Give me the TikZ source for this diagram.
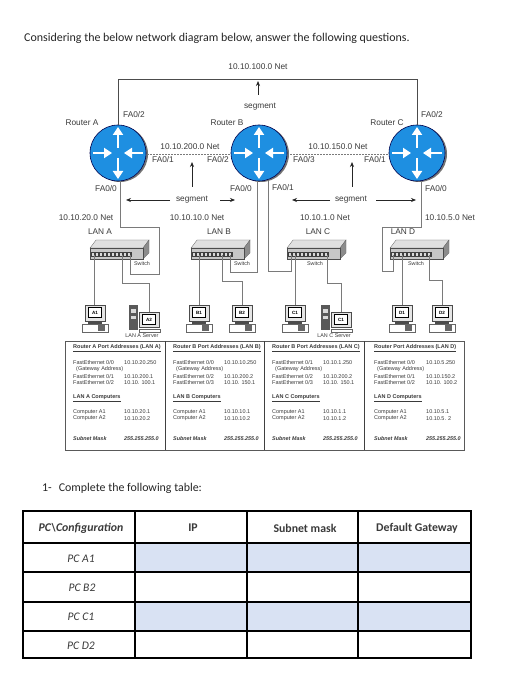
\documentclass[tikz,border=0pt]{standalone}
\usepackage{fontspec}
\setmainfont{Liberation Sans}
\newfontfamily\carl{Carlito}
\usetikzlibrary{arrows.meta,calc}
\definecolor{rblue}{HTML}{1E8FE1}
\definecolor{ink}{HTML}{3A3A3A}
\definecolor{wire}{HTML}{7A7A7A}
\definecolor{cellblue}{HTML}{D9E2F3}
\newcommand{\fsz}[1]{\fontsize{#1}{#1}\selectfont}
\tikzset{
  lbl/.style={font=\fsz{8.3}, text=ink, inner sep=0pt},
  tiny/.style={font=\fsz{5.5}, text=ink, inner sep=0pt, anchor=west},
  tinyh/.style={font=\fsz{5.5}\bfseries, text=ink, inner sep=0pt, anchor=west},
  swl/.style={font=\fsz{5.4}, text=ink, inner sep=0pt},
  wired/.style={draw=wire, line width=0.8pt},
  net/.style={draw=wire, line width=0.6pt, dashed, dash pattern=on 2pt off 1pt},
  toparr/.style={draw=black!85, line width=0.7pt, -{Stealth[length=5pt,width=4pt]}},
  router/.style={circle, draw=black!70!blue, fill=rblue, line width=0.6pt, minimum size=56pt, inner sep=0pt},
  rshadow/.style={circle, fill=black!55, minimum size=56pt, inner sep=0pt},
  wh/.style={draw=white, line width=2.6pt, -{Triangle[length=8pt,width=10pt,fill=white]}},
  swf/.style={draw=black!70, fill=black!22, line width=0.4pt, minimum width=53pt, minimum height=11pt, inner sep=0pt},
  mon/.style={draw=black!70, fill=black!10, line width=0.4pt, minimum width=20pt, minimum height=16pt, inner sep=0pt},
  scr/.style={draw=black, fill=white, line width=0.7pt, minimum width=13pt, minimum height=10pt, inner sep=0pt, font=\fsz{4.6}\bfseries},
  cell/.style={draw=black, line width=1.6pt, inner sep=0pt},
  ct/.style={font=\carl\fsz{11.6}\itshape, text=ink, inner sep=0pt},
  ch/.style={font=\carl\fsz{11.8}\bfseries, text=ink, inner sep=0pt},
}
% router: name, x, y
\newcommand{\routernode}[3]{%
  \node[rshadow] (#1s) at (#2+2,#3+1) {};
  \node[router] (#1) at (#2,#3) {};
  \draw[wh] (#2,#3-5) -- (#2,#3-26);
  \draw[wh] (#2,#3+5) -- (#2,#3+26);
  \draw[wh] (#2-25,#3) -- (#2-6,#3);
  \draw[wh] (#2+25,#3) -- (#2+6,#3);
}
% switch: name, left x
\newcommand{\switchnode}[2]{%
  \fill[black!12,draw=black!60,line width=0.3pt] (#2,248) -- (#2+6,240) -- (#2+59,240) -- (#2+53,248) -- cycle;
  \fill[black!45,draw=black!60,line width=0.3pt] (#2+53,248) -- (#2+59,240) -- (#2+59,253) -- (#2+53,259) -- cycle;
  \node[swf] (#1) at (#2+26.5,253.5) {};
  \fill[black!75] (#2+1,252) rectangle (#2+42,257);
  \foreach \i in {0,...,9} {\fill[black!15] (#2+2+4*\i,253) rectangle (#2+4+4*\i,256);}
}
% pc: name, x, label
\newcommand{\pcnode}[3]{%
  \node[mon] (#1) at (#2,313) {};
  \node[scr] (#1t) at (#2,312.5) {#3};
  \draw[black!60,fill=white,line width=0.4pt] (#2-13,324) rectangle (#2+13,332);
  \fill[black!70] (#2-7,321) rectangle (#2+7,324);
  \fill[black!60] (#2+3,325) rectangle (#2+10,331);
}
% pc with server: name, x of monitor, label
\newcommand{\srvnode}[3]{%
  \fill[black!65] (#2-20,305) rectangle (#2-11,330);
  \fill[black!15] (#2-18,309) rectangle (#2-13,313);
  \fill[black!15] (#2-18,316) rectangle (#2-13,319);
  \node[mon,minimum height=15pt] (#1) at (#2,320) {};
  \node[scr] (#1t) at (#2,319.5) {#3};
  \draw[black!60,fill=white,line width=0.4pt] (#2-10,329) rectangle (#2+11,332);
}
\begin{document}
\begin{tikzpicture}[x=1pt,y=-1pt]
\useasboundingbox[fill=white] (0,0) rectangle (529,700);

\node[inner sep=0pt,anchor=west,font=\carl\fsz{11.95},text=black!85] (title) at (24,38) {Considering the below network diagram below, answer the following questions.};

% connectors behind routers
\routernode{ra}{118}{153}
\routernode{rb}{259}{153}
\routernode{rc}{417}{153}

\coordinate (tl) at (118,79);
\coordinate (tr) at (417,79);
\draw[draw=black!70,line width=0.7pt] (ra.north) -- (tl) -- (tr) -- (rc.north);
\draw[net] (ra.east) ++(1,1) -- (230,154);
\draw[net] (rb.east) ++(3,1) -- (388,154);

% arrows
\coordinate (a1s) at (258,95); \coordinate (a1e) at (258,81);
\draw[toparr] (a1s) -- (a1e);
\coordinate (a2s) at (192,187); \coordinate (a2e) at (192,162);
\draw[toparr] (a2s) -- (a2e);
\coordinate (a3s) at (352,187); \coordinate (a3e) at (352,162);
\draw[toparr] (a3s) -- (a3e);
\coordinate (s1a) at (170,200); \coordinate (s1b) at (126,200);
\draw[toparr] (s1a) -- (s1b);
\coordinate (s2a) at (220,200); \coordinate (s2b) at (235,200);
\draw[toparr] (s2a) -- (s2b);
\coordinate (s3a) at (330,200); \coordinate (s3b) at (292,200);
\draw[toparr] (s3a) -- (s3b);
\coordinate (s4a) at (376,200); \coordinate (s4b) at (416,200);
\draw[toparr] (s4a) -- (s4b);

% switches
\switchnode{sa}{90}
\switchnode{sb}{191}
\switchnode{sc}{287}
\switchnode{sd}{390}

% router to switch wiring
\coordinate (ra0) at (120,181);
\coordinate (rb0) at (257,181);
\coordinate (rb1) at (268,181);
\coordinate (rc0) at (421,181);
\coordinate (pa) at (130,255);
\coordinate (pb) at (230,255);
\coordinate (pc) at (291,255);
\coordinate (pd) at (393,255);
\draw[wired] (ra0) -- (120,227) -- (159,227) -- (159,274) -- (130,274) -- (pa);
\draw[wired] (rb0) -- (257,272) -- (230,272) -- (pb);
\draw[wired] (rb1) -- (268,271) -- (291,271) -- (pc);
\draw[wired] (rc0) -- (421,227) -- (382,227) -- (382,271) -- (393,271) -- (pd);

% PCs
\pcnode{a1}{95}{A1}
\srvnode{a2}{149}{A2}
\pcnode{b1}{199}{B1}
\pcnode{b2}{242}{B2}
\pcnode{c1}{295}{C1}
\srvnode{c2}{341}{C1}
\pcnode{d1}{402}{D1}
\pcnode{d2}{442}{D2}

% switch to PC wiring
\coordinate (qa1) at (94,255);  \coordinate (qa2) at (122,255);
\coordinate (qb1) at (199,255); \coordinate (qb2) at (222,255);
\coordinate (qc1) at (295,255); \coordinate (qc2) at (327,255);
\coordinate (qd1) at (402,255); \coordinate (qd2) at (429,255);
\draw[wired] (qa1) -- (a1.north -| qa1);
\draw[wired] (qa2) -- (122,283) -- (149,283) -- (a2.north);
\draw[wired] (qb1) -- (b1.north);
\draw[wired] (qb2) -- (222,281) -- (242,281) -- (b2.north);
\draw[wired] (qc1) -- (c1.north);
\draw[wired] (qc2) -- (327,283) -- (341,283) -- (c2.north);
\draw[wired] (qd1) -- (d1.north);
\draw[wired] (qd2) -- (429,280) -- (442,280) -- (d2.north);

% diagram labels
\node[lbl] (l1) at (258,67) {10.10.100.0 Net};
\node[lbl] (l2) at (260,107) {segment};
\node[lbl] (l3) at (82,123) {Router A};
\node[lbl] (l4) at (134,115) {FA0/2};
\node[lbl] (l5) at (227,123) {Router B};
\node[lbl] (l6) at (190,147) {10.10.200.0 Net};
\node[lbl] (l7) at (163,160) {FA0/1};
\node[lbl] (l8) at (218,160) {FA0/2};
\node[lbl] (l9) at (106,189) {FA0/0};
\node[lbl] (l10) at (241,189) {FA0/0};
\node[lbl] (l11) at (338,147) {10.10.150.0 Net};
\node[lbl] (l12) at (304,160) {FA0/3};
\node[lbl] (l13) at (375,160) {FA0/1};
\node[lbl] (l14) at (387,123) {Router C};
\node[lbl] (l15) at (432,115) {FA0/2};
\node[lbl] (l16) at (283,188) {FA0/1};
\node[lbl] (l17) at (436,189) {FA0/0};
\node[lbl] (l18) at (192,200) {segment};
\node[lbl] (l19) at (351,200) {segment};
\node[lbl] (l20) at (86,218) {10.10.20.0 Net};
\node[lbl] (l21) at (100,232) {LAN A};
\node[lbl] (l22) at (197,218) {10.10.10.0 Net};
\node[lbl] (l23) at (219,232) {LAN B};
\node[lbl] (l24) at (325,218) {10.10.1.0 Net};
\node[lbl] (l25) at (318,232) {LAN C};
\node[lbl] (l26) at (450,218) {10.10.5.0 Net};
\node[lbl] (l27) at (403,232) {LAN D};
\node[swl] (w1) at (142,264) {Switch};
\node[swl] (w2) at (242,264) {Switch};
\node[swl] (w3) at (315,264) {Switch};
\node[swl] (w4) at (416,264) {Switch};
\node[swl] (w5) at (142,336) {LAN A Server};
\node[swl] (w6) at (334,336) {LAN C Server};

% address table
\draw[black!65,line width=0.7pt] (65,341) rectangle (464,450);
\draw[black!75,line width=0.8pt] (165,341) -- (165,450);
\draw[black!75,line width=0.8pt] (264,341) -- (264,450);
\draw[black!75,line width=0.8pt] (364,341) -- (364,450);

\foreach \k/\x/\ip/\hd/\pa/\ipa/\pb/\ipb/\pc/\ipc/\lan/\cu/\cv in {
 A/73/124/Router A Port Addresses (LAN A)/0/10.10.20.250/1/10.10.200.1/2/10.10. 100.1/LAN A Computers/10.10.20.1/10.10.20.2,
 B/173/224/Router B Port Addresses (LAN B)/0/10.10.10.250/2/10.10.200.2/3/10.10. 150.1/LAN B Computers/10.10.10.1/10.10.10.2,
 C/272/323/Router B Port Addresses (LAN C)/1/10.10.1.250/2/10.10.200.2/3/10.10. 150.1/LAN C Computers/10.10.1.1/10.10.1.2,
 D/374/426/Router Port Addresses (LAN D)/0/10.10.5.250/1/10.10.150.2/2/10.10. 100.2/LAN D Computers/10.10.5.1/10.10.5. 2}
{
  \node[tinyh,name=h\k] at (\x,348) {\underline{\hd}};
  \node[tiny,name=p\k] at (\x,363) {FastEthernet 0/\pa};
  \node[tiny,name=i\k] at (\ip,363) {\ipa};
  \node[tiny,name=g\k] at (\x+3,369.5) {(Gateway Address)};
  \node[tiny,name=q\k] at (\x,377) {FastEthernet 0/\pb};
  \node[tiny,name=j\k] at (\ip,377) {\ipb};
  \node[tiny,name=r\k] at (\x,383) {FastEthernet 0/\pc};
  \node[tiny,name=m\k] at (\ip,383) {\ipc};
  \node[tinyh,name=n\k] at (\x,398) {\underline{\lan}};
  \node[tiny,name=t\k] at (\x,412) {Computer A1};
  \node[tiny,name=u\k] at (\ip,412) {\cu};
  \node[tiny,name=v\k] at (\x,418.5) {Computer A2};
  \node[tiny,name=w\k] at (\ip,418.5) {\cv};
  \node[tinyh,font=\fsz{5.4}\bfseries\itshape,name=s\k] at (\x,439) {Subnet Mask};
  \node[tinyh,font=\fsz{5.4}\bfseries\itshape,name=z\k] at (\ip,439) {255.255.255.0};
}

% question
\node[inner sep=0pt,anchor=west,font=\carl\fsz{11.9},text=black!85] (qq) at (42,488) {1-\hspace{7pt}Complete the following table:};

% answer table
\fill[cellblue] (135,543) rectangle (471,572);
\fill[cellblue] (135,602) rectangle (471,631);
\draw[cell] (23,511) rectangle (471,658);
\foreach \x in {135,247,358} {\draw[cell] (\x,511) -- (\x,658);}
\foreach \y in {543,572,602,631} {\draw[cell] (23,\y) -- (471,\y);}
\node[ch,font=\carl\fsz{11.8}\bfseries\itshape,name=th0] at (81,528) {PC\textbackslash Configuration};
\node[ch,name=th1] at (193,528) {IP};
\node[ch,name=th2] at (305,528) {Subnet mask};
\node[ch,name=th3] at (417,528) {Default Gateway};
\node[ct,name=tr1] at (81,559) {PC A1};
\node[ct,name=tr2] at (82,588) {PC B2};
\node[ct,name=tr3] at (81,617) {PC C1};
\node[ct,name=tr4] at (81,646) {PC D2};
\end{tikzpicture}
\end{document}
